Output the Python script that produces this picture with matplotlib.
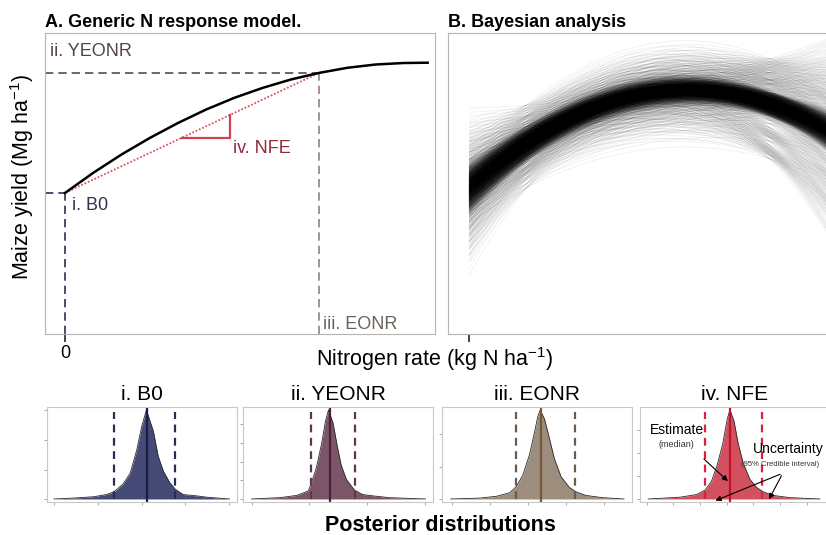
import numpy as np
import matplotlib
matplotlib.use('Agg')
import matplotlib.pyplot as plt
from matplotlib.collections import LineCollection

plt.rcParams['font.family'] = ['Liberation Sans', 'DejaVu Sans']
plt.rcParams['mathtext.fontset'] = 'custom'
plt.rcParams['mathtext.rm'] = 'Liberation Sans'
plt.rcParams['mathtext.it'] = 'Liberation Sans:italic'
plt.rcParams['mathtext.bf'] = 'Liberation Sans:bold'

# --- A. generic N response curve
curve_n = [0, 20, 40, 60, 80, 100, 120, 140, 160, 180, 200, 220, 240, 257]
curve_y = [4.70, 5.37, 5.98, 6.53, 7.03, 7.48, 7.87, 8.20, 8.48, 8.70, 8.87, 8.98, 9.03, 9.04]
b0 = 4.7
yeonr = 8.7
eonr = 180
nfe_run = [83, 117]

# --- B. posterior curves: median yield at three N rates + draw offsets
knot_n = [0, 150, 260]
knot_y = [4.90, 8.13, 6.65]
# bulk of the draws (dark band)
core_u = [-1.75, -1.1, -0.68, -0.33, -0.05, 0.24, 0.57, 0.93, 1.5]
core_v = [-1.55, -0.95, -0.5, -0.17, 0.12, 0.41, 0.86, 1.62]
core_w = [-1.8, -1.15, -0.7, -0.36, -0.04, 0.27, 0.62, 1.05, 1.65]
core_mix = [[0.33, 0.10, 0.05],
            [0.17, -0.13, 0.17],
            [0.10, 0.12, 0.24]]
# scattered draws (grey fan)
tail_u = [-3.7, -2.05, -1.35, -0.55, 0.3, 1.05, 1.9, 3.1]
tail_v = [-3.4, -1.7, -0.8, 0.15, 0.95, 2.2, 3.6]
tail_w = [-4.1, -2.6, -1.1, -0.35, 0.6, 1.5, 2.3, 3.3]
tail_mix = [[0.40, 0.12, 0.05],
            [0.25, -0.20, 0.30],
            [0.15, 0.18, 0.62]]

# --- posterior densities (x, relative density), median and 95% CI
b0_x = [3.00, 3.44, 3.90, 4.20, 4.37, 4.58, 4.74, 4.89, 5.00, 5.11, 5.27, 5.38, 5.50, 5.65, 5.77, 5.95, 6.26, 6.49, 7.01]
b0_d = [0, 0.01, 0.025, 0.05, 0.08, 0.17, 0.29, 0.55, 0.81, 1.0, 0.76, 0.48, 0.31, 0.18, 0.11, 0.05, 0.035, 0.02, 0]
yeonr_x = [7.00, 7.49, 7.78, 7.98, 8.03, 8.12, 8.21, 8.28, 8.33, 8.41, 8.48, 8.55, 8.64, 8.78, 8.92, 9.10, 9.38, 10.01]
yeonr_d = [0, 0.015, 0.04, 0.09, 0.17, 0.35, 0.62, 0.88, 1.0, 0.85, 0.6, 0.38, 0.22, 0.1, 0.05, 0.035, 0.015, 0]
eonr_x = [98.7, 136.9, 158.7, 176.1, 184.9, 193.5, 202.2, 208.7, 213.1, 216.2, 221.8, 228.3, 234.9, 243.6, 254.5, 263.2, 276.2, 297.9, 326.2]
eonr_d = [0, 0.01, 0.03, 0.07, 0.14, 0.27, 0.5, 0.75, 0.93, 1.0, 0.9, 0.68, 0.45, 0.25, 0.13, 0.08, 0.04, 0.015, 0]
nfe_x = [0.06, 1.25, 1.87, 2.19, 2.43, 2.64, 2.85, 3.02, 3.12, 3.27, 3.43, 3.62, 3.87, 4.12, 4.37, 4.74, 5.37, 6.49]
nfe_d = [0, 0.02, 0.05, 0.1, 0.2, 0.38, 0.62, 0.9, 1.0, 0.88, 0.62, 0.4, 0.22, 0.13, 0.08, 0.04, 0.015, 0]

post_titles = ['i. B0', 'ii. YEONR', 'iii. EONR', 'iv. NFE']
post_x = [b0_x, yeonr_x, eonr_x, nfe_x]
post_d = [b0_d, yeonr_d, eonr_d, nfe_d]
post_median = [5.12, 8.36, 217.0, 3.12]
post_ci = [[4.37, 5.77], [8.02, 8.79], [184.9, 262.3], [2.19, 4.34]]
post_xticks = [[3, 4, 5, 6, 7], [7, 8, 9, 10], [100, 150, 200, 250, 300], [0, 1, 2, 3, 4, 5, 6]]
post_yticks = [[0, 0.33, 0.66, 1.0], [0, 0.21, 0.42, 0.63, 0.84], [0, 0.36, 0.73], [0, 0.26, 0.52, 0.78]]

# styling
fill_cols = ['#454a76', '#7c5568', '#9d8d7c', '#d3515f']
line_cols = ['#1b1c45', '#4b1f38', '#76563f', '#c3102e']
dash_cols = ['#2a2b58', '#5c3a4e', '#6e5a4a', '#d8223e']
post_xlim = [(2.84, 7.18), (6.85, 10.14), (87.3, 336.7), (-0.25, 6.87)]

W, H = 826, 535
fig = plt.figure(figsize=(W / 100, H / 100), dpi=100)


def px_axes(left, top, width, height):
    return fig.add_axes([left / W, 1 - (top + height) / H, width / W, height / H])


spine_col = '#b4b4b4'

# ---------------- panel A
axA = px_axes(45, 33, 390, 301)
axA.set_xlim(-14.17, 262.2)
axA.set_ylim(0, 10.03)
x0 = axA.get_xlim()[0]
slope = (yeonr - b0) / eonr
axA.hlines(yeonr, x0, eonr, color='#5e4654', lw=1.2, ls=(0, (5, 3)))
axA.vlines(eonr, 0, yeonr, color='#8f8478', lw=1.2, ls=(0, (5, 3)))
axA.vlines(0, 0, b0, color='#2c2f4f', lw=1.2, ls=(0, (5, 3)))
axA.hlines(b0, x0, 0, color='#2c2f4f', lw=1.2, ls=(0, (5, 3)))
axA.plot([0, eonr], [b0, yeonr], ls=(0, (1, 1)), color='#d9545f', lw=1.3)
axA.plot([nfe_run[0], nfe_run[1], nfe_run[1]],
         [b0 + slope * nfe_run[0], b0 + slope * nfe_run[0], b0 + slope * nfe_run[1]],
         color='#d2404f', lw=1.6)
axA.plot(curve_n, curve_y, color='black', lw=1.8)
axA.text(-10.6, 9.4, 'ii. YEONR', color='#54424d', fontsize=13, va='center')
axA.text(119, 6.17, 'iv. NFE', color='#8c2c3a', fontsize=13, va='center')
axA.text(5, 4.27, 'i. B0', color='#2f3352', fontsize=13, va='center')
axA.text(182.8, 0.3, 'iii. EONR', color='#6b625a', fontsize=13, va='center')
axA.set_xticks([0])
axA.set_xticklabels(['0'], fontsize=13)
axA.set_yticks([])
axA.tick_params(axis='x', length=6, width=1.2, color='#222222', pad=2)
for s in axA.spines.values():
    s.set_color(spine_col)

# ---------------- panel B
axB = px_axes(448, 33, 390, 301)
axB.set_xlim(-14.9, 261.5)
axB.set_ylim(0, 10.03)
grid = np.linspace(0, 262, 90)
basis = np.array([np.prod([(grid - knot_n[m]) / (knot_n[j] - knot_n[m])
                           for m in range(3) if m != j], axis=0) for j in range(3)])


def draw_curves(us, vs, ws, mix, alpha):
    U, V, Wo = np.meshgrid(us, vs, ws, indexing='ij')
    offs = np.stack([U.ravel(), V.ravel(), Wo.ravel()], axis=1) @ np.array(mix)
    curves = (np.array(knot_y) + offs) @ basis
    segs = np.stack([np.broadcast_to(grid, curves.shape), curves], axis=-1)
    axB.add_collection(LineCollection(segs, colors='black', linewidths=0.5, alpha=alpha))


draw_curves(tail_u, tail_v, tail_w, tail_mix, 0.07)
draw_curves(core_u, core_v, core_w, core_mix, 0.13)
axB.set_xticks([0])
axB.set_xticklabels([''])
axB.set_yticks([])
axB.tick_params(axis='x', length=6, width=1.2, color='#222222')
for s in axB.spines.values():
    s.set_color(spine_col)

fig.text(435 / W, 1 - 366 / H, 'Nitrogen rate (kg N ha$^{-1}$)', fontsize=15.5,
         ha='center', va='baseline')
fig.text(22.5 / W, 1 - 177 / H, 'Maize yield (Mg ha$^{-1}$)', fontsize=15.5,
         rotation=90, ha='center', va='center')
fig.text(45 / W, 1 - 27 / H, 'A. Generic N response model.', fontsize=13,
         fontweight='bold', va='baseline')
fig.text(448 / W, 1 - 27 / H, 'B. Bayesian analysis', fontsize=13,
         fontweight='bold', va='baseline')

# ---------------- posterior panels
lefts = [47, 243, 442, 640]
post_axes = []
for i in range(4):
    ax = px_axes(lefts[i], 407, 190, 95)
    ax.set_xlim(*post_xlim[i])
    ax.set_ylim(-0.034, 1.034)
    ax.fill_between(post_x[i], 0, post_d[i], color=fill_cols[i], lw=0)
    ax.plot(post_x[i], post_d[i], color='#2a2a2a', lw=0.6)
    ax.axvline(post_median[i], color=line_cols[i], lw=1.6)
    ax.vlines(post_ci[i], 0, 0.98, color=dash_cols[i], lw=1.6, ls=(0, (3.5, 2.5)))
    ax.set_xticks(post_xticks[i])
    ax.set_yticks(post_yticks[i])
    ax.tick_params(length=2, width=0.6, color='#999999',
                   labelbottom=False, labelleft=False)
    for s in ax.spines.values():
        s.set_color('#c8c8c8')
        s.set_linewidth(0.8)
    fig.text((lefts[i] + 95) / W, 1 - 400 / H, post_titles[i], fontsize=15,
             ha='center', va='baseline')
    post_axes.append(ax)

ax4 = post_axes[3]
ax4.text(1.13, 0.775, 'Estimate', fontsize=10, ha='center', va='center')
ax4.text(1.13, 0.61, '(median)', fontsize=6.5, ha='center', va='center', color='#333333')
ax4.text(3.98, 0.56, 'Uncertainty', fontsize=10, ha='left', va='center')
ax4.text(3.55, 0.39, '(95% Credible interval)', fontsize=5.5, ha='left', va='center',
         color='#333333')
arrow = dict(arrowstyle='-|>', color='black', lw=0.8, mutation_scale=8)
ax4.annotate('', xy=(3.12, 0.18), xytext=(2.07, 0.47), arrowprops=arrow,
             annotation_clip=False)
ax4.annotate('', xy=(2.48, -0.03), xytext=(5.1, 0.29), arrowprops=arrow,
             annotation_clip=False)
ax4.annotate('', xy=(4.54, -0.03), xytext=(5.1, 0.29), arrowprops=arrow,
             annotation_clip=False)

fig.text(440 / W, 1 - 531 / H, 'Posterior distributions', fontsize=15.5,
         fontweight='bold', ha='center', va='baseline')

fig.savefig('out.png', dpi=100)
